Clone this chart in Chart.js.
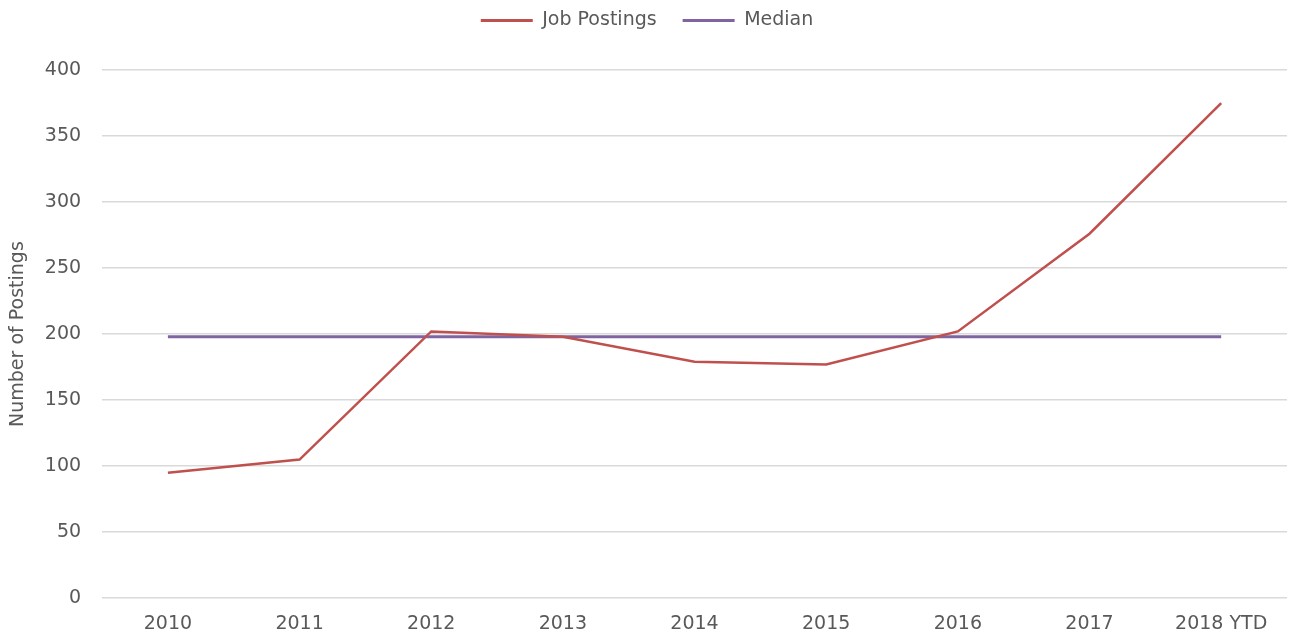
<!DOCTYPE html>
<html>
<head>
<meta charset="utf-8">
<script src="https://cdn.jsdelivr.net/npm/chart.js@4"></script>
<style>
  html, body { margin: 0; padding: 0; background: #fff; }
  #wrap { width: 1289px; height: 634px; position: relative; }
</style>
</head>
<body>
<div id="wrap"><canvas id="postings-chart"></canvas></div>
<script>
const years = ['2010', '2011', '2012', '2013', '2014', '2015', '2016', '2017', '2018 YTD'];
const jobPostings = [95, 105, 202, 198, 179, 177, 202, 276, 375];
const median = [198, 198, 198, 198, 198, 198, 198, 198, 198];

const FONT = "'DejaVu Sans', 'Open Sans', sans-serif";
const TEXT_COLOR = '#595959';

const ctx = document.getElementById('postings-chart').getContext('2d');

// push the plot area down a bit below the legend
const legendSpacer = {
    id: 'legendSpacer',
    beforeInit(chart) {
        const origFit = chart.legend.fit;
        chart.legend.fit = function () {
            origFit.call(this);
            this.height += 30;
        };
    }
};

new Chart(ctx, {
    type: 'line',
    data: {
        labels: years,
        datasets: [
            {
                label: 'Job Postings',
                data: jobPostings,
                borderColor: '#C0504D',
                backgroundColor: '#C0504D',
                borderWidth: 2.5,
                pointRadius: 0,
                tension: 0,
            },
            {
                label: 'Median',
                data: median,
                borderColor: '#8064A2',
                backgroundColor: '#8064A2',
                borderWidth: 3,
                pointRadius: 0,
                tension: 0,
            }
        ]
    },
    options: {
        responsive: true,
        maintainAspectRatio: false,
        animation: false,
        layout: {
            padding: { left: 7, right: 2, top: -15, bottom: -15 }
        },
        scales: {
            x: {
                offset: true,
                grid: { display: false, drawTicks: false },
                border: { display: false },
                ticks: {
                    color: TEXT_COLOR,
                    font: { family: FONT, size: 19 },
                    padding: 14,
                    maxRotation: 0,
                }
            },
            y: {
                min: 0,
                max: 400,
                grid: {
                    color: '#d9d9d9',
                    lineWidth: 1.5,
                    drawTicks: false,
                },
                border: { display: false },
                ticks: {
                    stepSize: 50,
                    color: TEXT_COLOR,
                    font: { family: FONT, size: 19 },
                    padding: 21,
                },
                title: {
                    display: true,
                    text: 'Number of Postings',
                    color: TEXT_COLOR,
                    font: { family: FONT, size: 19 },
                    padding: { top: 0, bottom: -6 },
                }
            }
        },
        plugins: {
            legend: {
                position: 'top',
                labels: {
                    color: TEXT_COLOR,
                    font: { family: FONT, size: 19 },
                    boxWidth: 52,
                    boxHeight: 3,
                    padding: 26,
                    generateLabels(chart) {
                        return Chart.defaults.plugins.legend.labels.generateLabels(chart)
                            .map(item => ({ ...item, lineWidth: 0 }));
                    }
                }
            },
            tooltip: { enabled: false }
        }
    },
    plugins: [legendSpacer]
});
</script>
</body>
</html>
